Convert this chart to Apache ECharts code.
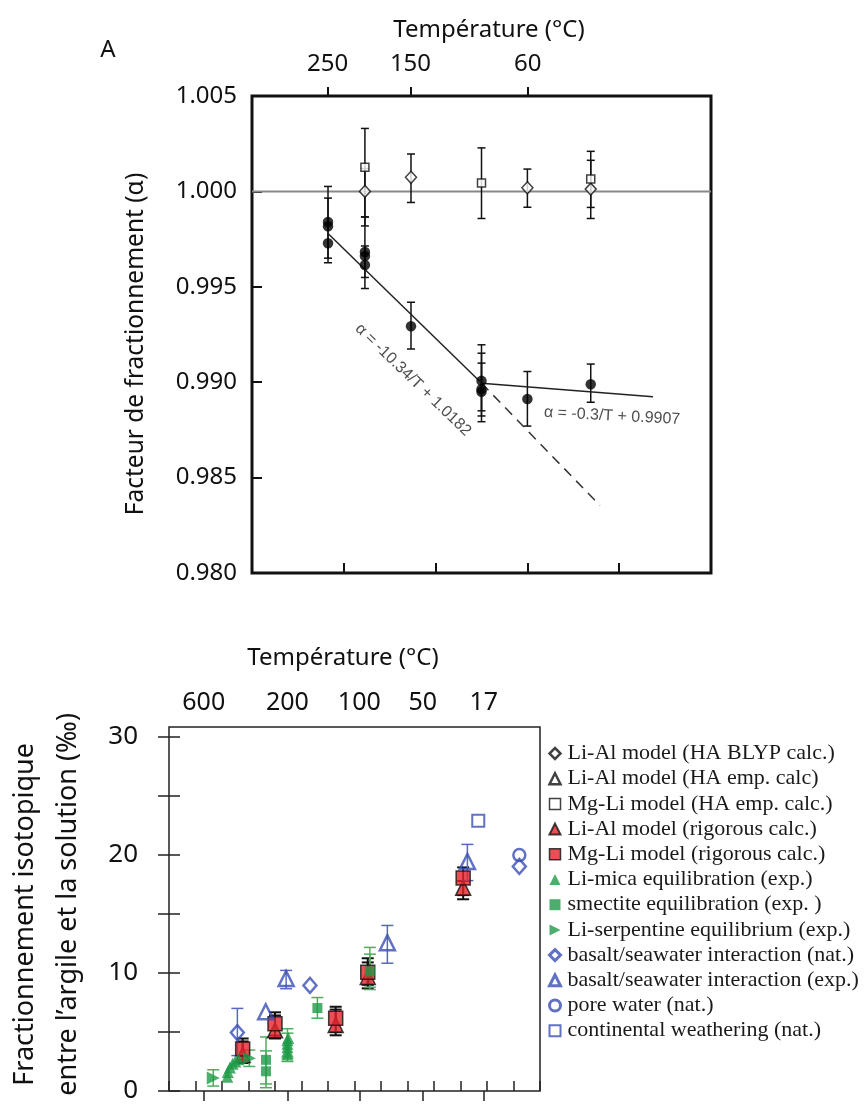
<!DOCTYPE html>
<html><head><meta charset="utf-8">
<script src="https://cdn.jsdelivr.net/npm/echarts@6/dist/echarts.min.js"></script>
<style>html,body{margin:0;padding:0;background:#fff}#c{width:866px;height:1104px}</style>
</head><body><div id="c"></div>
<script>
// ---------- Panel A data (x = 1000/T in K^-1) ----------
const topTempLabels = [250, 150, 60];
const topYTicks = [0.980, 0.985, 0.990, 0.995, 1.000, 1.005];
const circlesA = [[1.914,0.9984],[1.914,0.99817],[1.914,0.99728],[2.115,0.99682],[2.115,0.99661],[2.115,0.99614],[2.366,0.99293],[2.75,0.99007],[2.75,0.98963],[2.75,0.9895],[3.0,0.98912],[3.345,0.98989]];
const diamondsA = [[2.115,1.0000],[2.366,1.00074],[3.0,1.00019],[3.345,1.00012]];
const squaresA = [[2.115,1.00126],[2.75,1.00044],[3.345,1.00065]];
const errorsA = [[1.914,0.99626,1.00026],[1.914,0.9965,0.99965],[2.115,0.99866,1.0033],[2.115,0.99819,1.0012],[2.115,0.99549,0.99714],[2.115,0.99491,0.99866],[2.366,0.99942,1.00196],[2.366,0.99174,0.99419],[2.75,0.99858,1.00228],[2.75,0.98793,0.99196],[2.75,0.98823,0.99152],[2.75,0.9885,0.991],[3.0,0.99917,1.00117],[3.0,0.9877,0.99056],[3.345,0.99858,1.0021],[3.345,0.99916,1.00163],[3.345,0.98895,0.99095]];
const refLineA = [[1.5,1.0],[4.0,1.0]];
const fitHighT = [[1.914,0.99779],[2.74,0.99005]];
const fitHighTExt = [[2.75,0.98995],[3.395,0.98354]];
const fitLowT = [[2.75,0.98995],[3.684,0.98924]];
const eqHigh = [2.377, 0.99012, 'α = -10.34/T + 1.0182'];
const eqLow = [3.461, 0.98823, 'α = -0.3/T + 0.9907'];

// ---------- Panel B data (x = 10^6/T^2) ----------
const botTempLabels = [600, 200, 100, 50, 17];
const botYTicks = [0, 5, 10, 15, 20, 25, 30];
const botYLabels = [0, 10, 20, 30];
const liAlBlyp = [];
const liAlEmp = [];
const mgLiEmp = [];
const liAlRig = [[2.78,3.06],[4.0,5.14],[6.29,5.6],[7.5,9.67],[11.1,17.22]];
const mgLiRig = [[2.78,3.56],[4.0,5.7],[6.29,6.17],[7.5,10.06],[11.1,18.06]];
const modelErr = [[2.78,2.37,4.45],[2.78,2.6,4.2],[4.0,4.45,6.67],[4.0,4.7,6.4],[6.29,4.72,7.14],[6.29,5.0,6.9],[7.5,8.7,11.25],[7.5,9.0,10.9],[11.1,16.25,18.95],[11.1,16.6,17.8]];
const liMica = [[2.2,1.2],[2.22,1.6],[2.3,2.0],[2.4,2.3],[2.5,2.5],[2.62,2.7],[4.47,3.1],[4.47,3.4],[4.47,3.7],[4.47,4.0],[4.47,4.3],[4.5,4.5]];
const smectite = [[3.66,2.64],[3.66,1.67],[5.6,7.03],[7.58,10.14]];
const serpentine = [[1.67,1.1],[3.03,2.78]];
const expErr = [[4.47,2.5,5.28],[4.47,2.8,4.9],[3.66,0.28,4.58],[3.66,0.6,3.4],[5.6,6.17,7.92],[7.58,8.6,12.17],[7.58,8.8,11.6],[1.67,0.42,1.8],[3.03,2.08,3.47]];
const basaltNat = [[2.58,4.95],[5.32,8.95],[13.22,19.03]];
const basaltExp = [[3.65,6.72],[4.42,9.53],[8.24,12.56],[11.26,19.45]];
const poreWater = [[13.22,20.0]];
const continental = [[11.67,22.9]];
const natErr = [[2.58,3.0,7.0],[4.42,8.67,10.22],[8.24,10.83,14.03],[11.26,17.83,20.9]];

const legendNames = ['Li-Al model (HA BLYP calc.)','Li-Al model (HA emp. calc)','Mg-Li model (HA emp. calc.)','Li-Al model (rigorous calc.)','Mg-Li model (rigorous calc.)','Li-mica equilibration (exp.)','smectite equilibration (exp. )','Li-serpentine equilibrium (exp.)','basalt/seawater interaction (nat.)','basalt/seawater interaction (exp.)','pore water (nat.)','continental weathering (nat.)'];

// ---------- styling ----------
const RED = '#e5232b', GREEN = '#1e9a47', GREEN_E = '#4fae5e', BLUE = '#3a4db5', BLUE_E = '#5868c2';
const SANS = 'Noto Sans';
const RIGHT_TRI = 'path://M0,0 L10,5 L0,10 Z';

function errSeries(data, xi, yi, color, capW, lw) {
  return {
    type: 'custom', xAxisIndex: xi, yAxisIndex: yi, z: 1, silent: true,
    encode: {x: 0, y: [1, 2]}, data: data,
    renderItem: function (params, api) {
      const x = api.value(0), lo = api.value(1), hi = api.value(2);
      const a = api.coord([x, lo]), b = api.coord([x, hi]);
      const st = {stroke: color, lineWidth: lw};
      return {type: 'group', children: [
        {type: 'line', shape: {x1: a[0], y1: a[1], x2: b[0], y2: b[1]}, style: st},
        {type: 'line', shape: {x1: a[0]-capW, y1: a[1], x2: a[0]+capW, y2: a[1]}, style: st},
        {type: 'line', shape: {x1: b[0]-capW, y1: b[1], x2: b[0]+capW, y2: b[1]}, style: st}
      ]};
    }
  };
}
function sc(name, data, xi, yi, symbol, size, itemStyle, extra) {
  return Object.assign({type: 'scatter', name: name, data: data, xAxisIndex: xi, yAxisIndex: yi,
    symbol: symbol, symbolSize: size, itemStyle: itemStyle, z: 3, emphasis: {disabled: true}}, extra || {});
}

const topTicks = topTempLabels.map(t => 1000 / (t + 273.15));
const botTicks = botTempLabels.map(t => 1e6 / Math.pow(t + 273.15, 2));

const legendIcon = [
  {color: '#fff', borderColor: '#111', borderWidth: 2.5},
  {color: '#fff', borderColor: '#111', borderWidth: 2.5},
  {color: '#fff', borderColor: '#111', borderWidth: 1.5},
  {color: RED, borderColor: '#111', borderWidth: 2},
  {color: RED, borderColor: '#111', borderWidth: 1.5},
  {color: GREEN, borderWidth: 0},
  {color: GREEN, borderWidth: 0},
  {color: GREEN, borderWidth: 0},
  {color: '#fff', borderColor: BLUE, borderWidth: 3},
  {color: '#fff', borderColor: BLUE, borderWidth: 3},
  {color: '#fff', borderColor: BLUE, borderWidth: 3},
  {color: '#fff', borderColor: BLUE, borderWidth: 2}
];

const chart = echarts.init(document.getElementById('c'), null, {renderer: 'canvas'});
const option = {
  animation: false,
  backgroundColor: '#fff',
  grid: [
    {left: 252, top: 96, width: 459, height: 477, show: true, borderColor: '#111', borderWidth: 3, backgroundColor: 'transparent'},
    {left: 169, top: 727, width: 371, height: 370, show: true, borderColor: '#222', borderWidth: 1.5, backgroundColor: 'transparent'}
  ],
  xAxis: [
    {gridIndex: 0, type: 'value', position: 'bottom', min: 1.5, max: 4.0, interval: 0.5,
     axisLine: {show: false}, splitLine: {show: false}, axisLabel: {show: false},
     axisTick: {inside: true, length: 10, lineStyle: {color: '#111', width: 2}}},
    {gridIndex: 0, type: 'value', position: 'top', min: 1.5, max: 4.0,
     axisLine: {show: false}, splitLine: {show: false},
     axisTick: {inside: false, length: 9, customValues: topTicks, lineStyle: {color: '#111', width: 2}},
     axisLabel: {customValues: topTicks, margin: 20, fontFamily: SANS, fontSize: 24, color: '#111',
       formatter: v => String(Math.round(1000 / v - 273.15))}},
    {gridIndex: 1, type: 'value', position: 'bottom', min: 0, max: 14, interval: 1,
     axisLine: {show: false}, splitLine: {show: false}, axisLabel: {show: false},
     axisTick: {inside: true, length: 10, lineStyle: {color: '#222', width: 1.5}}},
    {gridIndex: 1, type: 'value', position: 'top', min: 0, max: 14,
     axisLine: {show: false}, splitLine: {show: false},
     axisTick: {inside: true, length: 10, customValues: botTicks, lineStyle: {color: '#222', width: 1.5}},
     axisLabel: {customValues: botTicks, margin: 12, fontFamily: SANS, fontSize: 25, color: '#111',
       formatter: v => String(Math.round(Math.sqrt(1e6 / v) - 273.15))}}
  ],
  yAxis: [
    {gridIndex: 0, type: 'value', min: 0.98, max: 1.005,
     axisLine: {show: false}, splitLine: {show: false},
     axisTick: {inside: true, length: 10, customValues: topYTicks, lineStyle: {color: '#111', width: 2}},
     axisLabel: {customValues: topYTicks, margin: 15, fontFamily: SANS, fontSize: 24, color: '#111',
       formatter: v => v.toFixed(3)}},
    {gridIndex: 1, type: 'value', min: 0, max: 30.85, position: 'left',
     axisLine: {show: false}, splitLine: {show: false},
     axisTick: {inside: true, length: 11, customValues: botYTicks, lineStyle: {color: '#222', width: 1.5}},
     axisLabel: {customValues: botYLabels, margin: 31, fontFamily: SANS, fontSize: 26, color: '#111'}},
    {gridIndex: 1, type: 'value', min: 0, max: 30.85, position: 'right',
     axisLine: {show: false}, splitLine: {show: false}, axisLabel: {show: false},
     axisTick: {inside: true, length: 11, customValues: botYTicks, lineStyle: {color: '#222', width: 1.5}}}
  ],
  legend: {
    data: legendNames.map((n, i) => i === 7
      ? {name: n, itemStyle: legendIcon[i], icon: RIGHT_TRI}
      : {name: n, itemStyle: legendIcon[i]}),
    orient: 'vertical', left: 548, top: 741,
    itemWidth: 11, itemHeight: 11, itemGap: 0.2, padding: 0,
    textStyle: {fontFamily: 'Liberation Serif', fontSize: 22, color: '#1a1a1a', lineHeight: 25, padding: [0, 0, 0, 2]},
    selectedMode: false
  },
  graphic: [
    {type: 'text', x: 108, y: 50, style: {text: 'A', fontFamily: SANS, fontSize: 24, fill: '#111', align: 'center', verticalAlign: 'middle'}},
    {type: 'text', x: 489, y: 30, style: {text: 'Température (°C)', fontFamily: SANS, fontSize: 24, fill: '#111', align: 'center', verticalAlign: 'middle'}},
    {type: 'text', x: 136, y: 344, rotation: Math.PI / 2, style: {text: 'Facteur de fractionnement (α)', fontFamily: SANS, fontSize: 24.5, fill: '#111', align: 'center', verticalAlign: 'middle'}},
    {type: 'text', x: 343, y: 658, style: {text: 'Température (°C)', fontFamily: SANS, fontSize: 24, fill: '#111', align: 'center', verticalAlign: 'middle'}},
    {type: 'text', x: 25, y: 743, rotation: Math.PI / 2, style: {text: 'Fractionnement isotopique', fontFamily: SANS, fontSize: 27, fill: '#111', align: 'right', verticalAlign: 'middle'}},
    {type: 'text', x: 68, y: 713, rotation: Math.PI / 2, style: {text: 'entre l’argile et la solution (‰)', fontFamily: SANS, fontSize: 27, fill: '#111', align: 'right', verticalAlign: 'middle'}}
  ],
  series: [
    // ---- panel A ----
    {type: 'line', data: refLineA, xAxisIndex: 0, yAxisIndex: 0, symbol: 'none', lineStyle: {color: '#888', width: 2}, z: 0, silent: true},
    {type: 'line', data: fitHighT, xAxisIndex: 0, yAxisIndex: 0, symbol: 'none', lineStyle: {color: '#222', width: 1.5}, z: 2, silent: true},
    {type: 'line', data: fitHighTExt, xAxisIndex: 0, yAxisIndex: 0, symbol: 'none', lineStyle: {color: '#333', width: 1.5, type: [10, 7]}, z: 2, silent: true},
    {type: 'line', data: fitLowT, xAxisIndex: 0, yAxisIndex: 0, symbol: 'none', lineStyle: {color: '#222', width: 1.5}, z: 2, silent: true},
    errSeries(errorsA, 0, 0, '#111', 4, 1.5),
    sc('A-circles', circlesA, 0, 0, 'circle', 10.5, {color: '#000'}),
    sc('A-diamonds', diamondsA, 0, 0, 'diamond', [11, 12], {color: '#fff', borderColor: '#111', borderWidth: 1.5}),
    sc('A-squares', squaresA, 0, 0, 'rect', 8, {color: '#fff', borderColor: '#111', borderWidth: 1.5}),
    {type: 'scatter', xAxisIndex: 0, yAxisIndex: 0, symbolSize: 0, data: [eqHigh], silent: true, z: 4,
     label: {show: true, position: 'inside', rotate: -44, formatter: p => p.value[2], fontFamily: 'Liberation Sans', fontSize: 16, color: '#222'}},
    {type: 'scatter', xAxisIndex: 0, yAxisIndex: 0, symbolSize: 0, data: [eqLow], silent: true, z: 4,
     label: {show: true, position: 'inside', rotate: -3, formatter: p => p.value[2], fontFamily: 'Liberation Sans', fontSize: 16, color: '#222'}},
    // ---- panel B ----
    errSeries(modelErr, 2, 1, '#111', 6, 2),
    errSeries(expErr, 2, 1, GREEN_E, 6, 1.5),
    errSeries(natErr, 2, 1, BLUE_E, 6, 1.5),
    sc(legendNames[0], liAlBlyp, 2, 1, 'diamond', [12, 14], {color: '#fff', borderColor: '#111', borderWidth: 2}),
    sc(legendNames[1], liAlEmp, 2, 1, 'triangle', 13, {color: '#fff', borderColor: '#111', borderWidth: 2}),
    sc(legendNames[2], mgLiEmp, 2, 1, 'rect', 12, {color: '#fff', borderColor: '#111', borderWidth: 1.5}),
    sc(legendNames[3], liAlRig, 2, 1, 'triangle', 15, {color: RED, borderColor: '#111', borderWidth: 1.5}),
    sc(legendNames[4], mgLiRig, 2, 1, 'rect', 14, {color: RED, borderColor: '#111', borderWidth: 1.5}),
    sc(legendNames[5], liMica, 2, 1, 'triangle', 12, {color: GREEN}),
    sc(legendNames[6], smectite, 2, 1, 'rect', 10, {color: GREEN}),
    sc(legendNames[7], serpentine, 2, 1, 'triangle', 13, {color: GREEN}, {symbolRotate: -90}),
    sc(legendNames[8], basaltNat, 2, 1, 'diamond', [13, 15], {color: 'rgba(255,255,255,0)', borderColor: BLUE, borderWidth: 2.5}),
    sc(legendNames[9], basaltExp, 2, 1, 'triangle', 15, {color: 'rgba(255,255,255,0)', borderColor: BLUE, borderWidth: 2.5}),
    sc(legendNames[10], poreWater, 2, 1, 'circle', 12, {color: 'rgba(255,255,255,0)', borderColor: BLUE, borderWidth: 2.5}),
    sc(legendNames[11], continental, 2, 1, 'rect', 12, {color: 'rgba(255,255,255,0)', borderColor: BLUE, borderWidth: 2})
  ]
};
chart.setOption(option);
</script>
</body></html>
